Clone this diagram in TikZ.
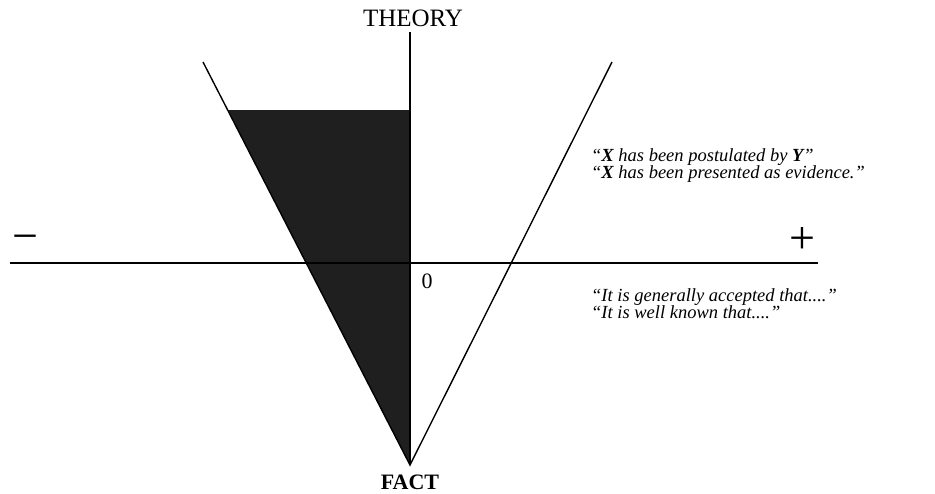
\documentclass[tikz,border=0pt]{standalone}
\usepackage{fontspec}
\setmainfont{Liberation Serif}
\usetikzlibrary{calc,positioning}
\tikzset{%
  fvaxis/.style={line width=1.4pt,draw=black},
  fvlabel/.style={font=\fontsize{25}{27}\selectfont,inner sep=0pt},
  fvquote/.style={font=\fontsize{18.5}{17}\selectfont\itshape,align=left,anchor=west,inner sep=0pt},
  fvsign/.style={font=\fontsize{46}{48}\selectfont,inner sep=0pt}
}

\begin{document}
\begin{tikzpicture}[x=1pt,y=-1pt]
    \useasboundingbox (0,0) rectangle (935,493);
    \coordinate (apex) at (410,465);
    \coordinate (ytop) at (410,32);
    \coordinate (xleft) at (10,263);
    \coordinate (xright) at (818,263);
    \coordinate (ltop) at (203,62);
    \coordinate (rtop) at (612,62);
    \coordinate (shade) at (228,110);
    \coordinate (shadeaxis) at (410,110);

    % shaded wedge
    \fill[black!88] (shade) -- (shadeaxis) -- (apex) -- cycle;

    \draw[fvaxis] (xleft) -- (xright);
    \draw[fvaxis] (apex) -- (ytop);
    \draw[fvaxis] (ltop) -- (apex) -- (rtop);

    \node[fvlabel] (theory) at (413,18) {THEORY};
    \node[fvlabel,font=\fontsize{22}{24}\selectfont\bfseries] (fact) at (410,482) {FACT};
    \node[fvlabel,font=\fontsize{22}{24}\selectfont] (zero) at (427,281) {0};
    \node[fvsign] (minus) at (25,243) {\textminus};
    \node[fvsign] (plus) at (802,241) {+};

    \node[fvquote] (claim) at (591,166) {``\textbf{X} has been postulated by \textbf{Y}''\\``\textbf{X} has been presented as evidence.''};
    \node[fvquote] (known) at (591,304) {``It is generally accepted that....''\\``It is well known that....''};
  \end{tikzpicture}
\end{document}
